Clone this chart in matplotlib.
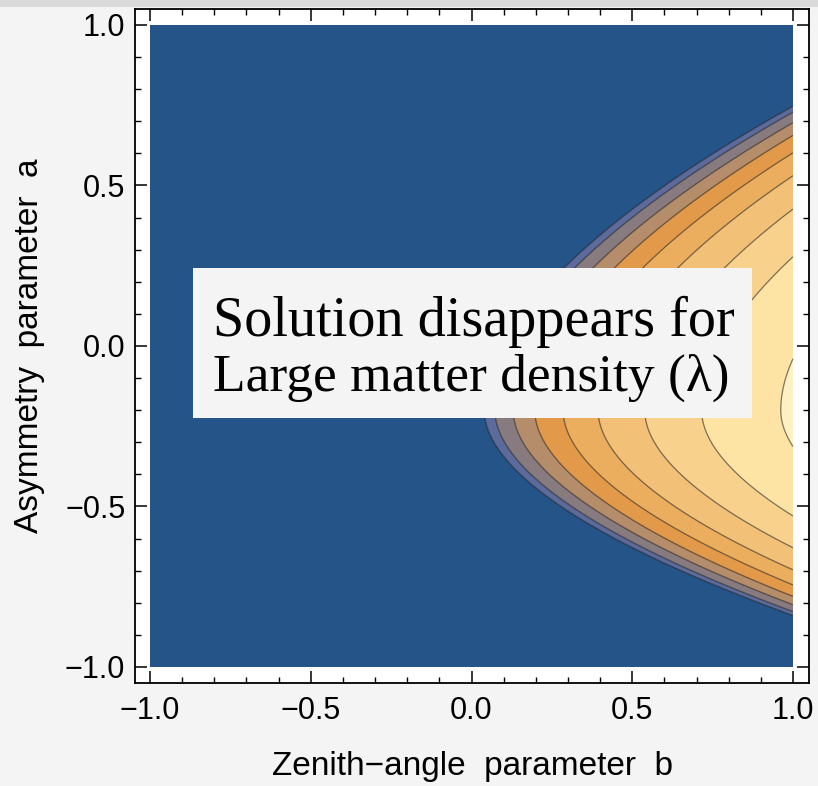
import numpy as np
import matplotlib
matplotlib.use("Agg")
import matplotlib.pyplot as plt
from matplotlib.patches import Rectangle
from matplotlib.ticker import FixedLocator, MultipleLocator

# ---- data -------------------------------------------------------------
# contour levels (solution value, expressed as the b-position of each contour's nose)
levels_inner = [0.04, 0.073, 0.130, 0.197, 0.285, 0.394, 0.539, 0.716, 0.962]
# ridge of the solution in a, and side-dependent fall-off of the solution
ridge_a = -0.20
upper_coef, upper_pow, upper_round = 1.07, 1.75, 0.12
lower_coef, lower_pow, lower_round = 2.18, 1.81, 0.09

band_colors = ["#255489", "#5c6b9b", "#877b7f", "#b58d6a", "#e29a4a",
               "#ebae5e", "#f2c077", "#f8d28d", "#fde4a4", "#fff1c4"]

tick_values = [-1.0, -0.5, 0.0, 0.5, 1.0]
tick_labels = ["\u22121.0", "\u22120.5", "0.0", "0.5", "1.0"]

xlabel = "Zenith\u2212angle  parameter  b"
ylabel = "Asymmetry  parameter  a"
note_lines = ["Solution disappears for", "Large matter density (\u03bb)"]

# ---- field --------------------------------------------------------------
b = np.linspace(-1, 1, 901)
a = np.linspace(-1, 1, 901)
B, A = np.meshgrid(b, a)
U = A - ridge_a


def falloff(u, coef, power, eps):
    return coef * ((u ** 2 + eps ** 2) ** (power / 2) - eps ** power)


F = B - np.where(U >= 0,
                 falloff(U, upper_coef, upper_pow, upper_round),
                 falloff(U, lower_coef, lower_pow, lower_round))

# ---- figure -------------------------------------------------------------
W, H = 818, 786
fig = plt.figure(figsize=(W / 100, H / 100), dpi=100)
fig.patch.set_facecolor("#f4f4f4")
fig.patches.append(Rectangle((0, 1 - 7 / H), 1, 7 / H, transform=fig.transFigure,
                             facecolor="#d9d9d9", edgecolor="none", zorder=0))

ax = fig.add_axes([135 / W, 1 - 682.5 / H, (809 - 135) / W, (682.5 - 9) / H])
ax.set_facecolor("white")

all_levels = [-10.0] + levels_inner + [10.0]
ax.contourf(B, A, F, levels=all_levels, colors=band_colors, antialiased=True)
ax.contour(B, A, F, levels=levels_inner, colors="black", alpha=0.5, linewidths=0.9)

ax.set_xlim(-1.0467, 1.0498)
ax.set_ylim(-1.0483, 1.0498)

for side in ax.spines.values():
    side.set_linewidth(1.3)
    side.set_color("black")

ax.xaxis.set_major_locator(FixedLocator(tick_values))
ax.yaxis.set_major_locator(FixedLocator(tick_values))
ax.set_xticklabels(tick_labels)
ax.set_yticklabels(tick_labels)
ax.xaxis.set_minor_locator(MultipleLocator(0.1))
ax.yaxis.set_minor_locator(MultipleLocator(0.1))
ax.tick_params(which="both", direction="in", top=True, right=True,
               labelsize=22, width=1.1)
ax.tick_params(which="major", length=8.5)
ax.tick_params(which="minor", length=4.5, width=1.0)
ax.tick_params(axis="x", pad=10)
ax.tick_params(axis="y", pad=7)
for lab in ax.get_xticklabels() + ax.get_yticklabels():
    lab.set_family("Liberation Sans")

ax.set_xlabel(xlabel, fontsize=24, family="Liberation Sans", labelpad=18)
ax.set_ylabel(ylabel, fontsize=24, family="Liberation Sans", labelpad=14)

# annotation box
ax.add_patch(Rectangle((-0.866, -0.224), 0.872 + 0.866, 0.243 + 0.224,
                       facecolor="#f4f4f4", edgecolor="none", zorder=5))
ax.text(-0.804, 0.031, note_lines[0], fontsize=40.5, family="Liberation Serif",
        va="baseline", ha="left", zorder=6)
ax.text(-0.804, -0.140, note_lines[1], fontsize=38.5, family="Liberation Serif",
        va="baseline", ha="left", zorder=6)

fig.savefig("out.png", dpi=100, facecolor=fig.get_facecolor())
